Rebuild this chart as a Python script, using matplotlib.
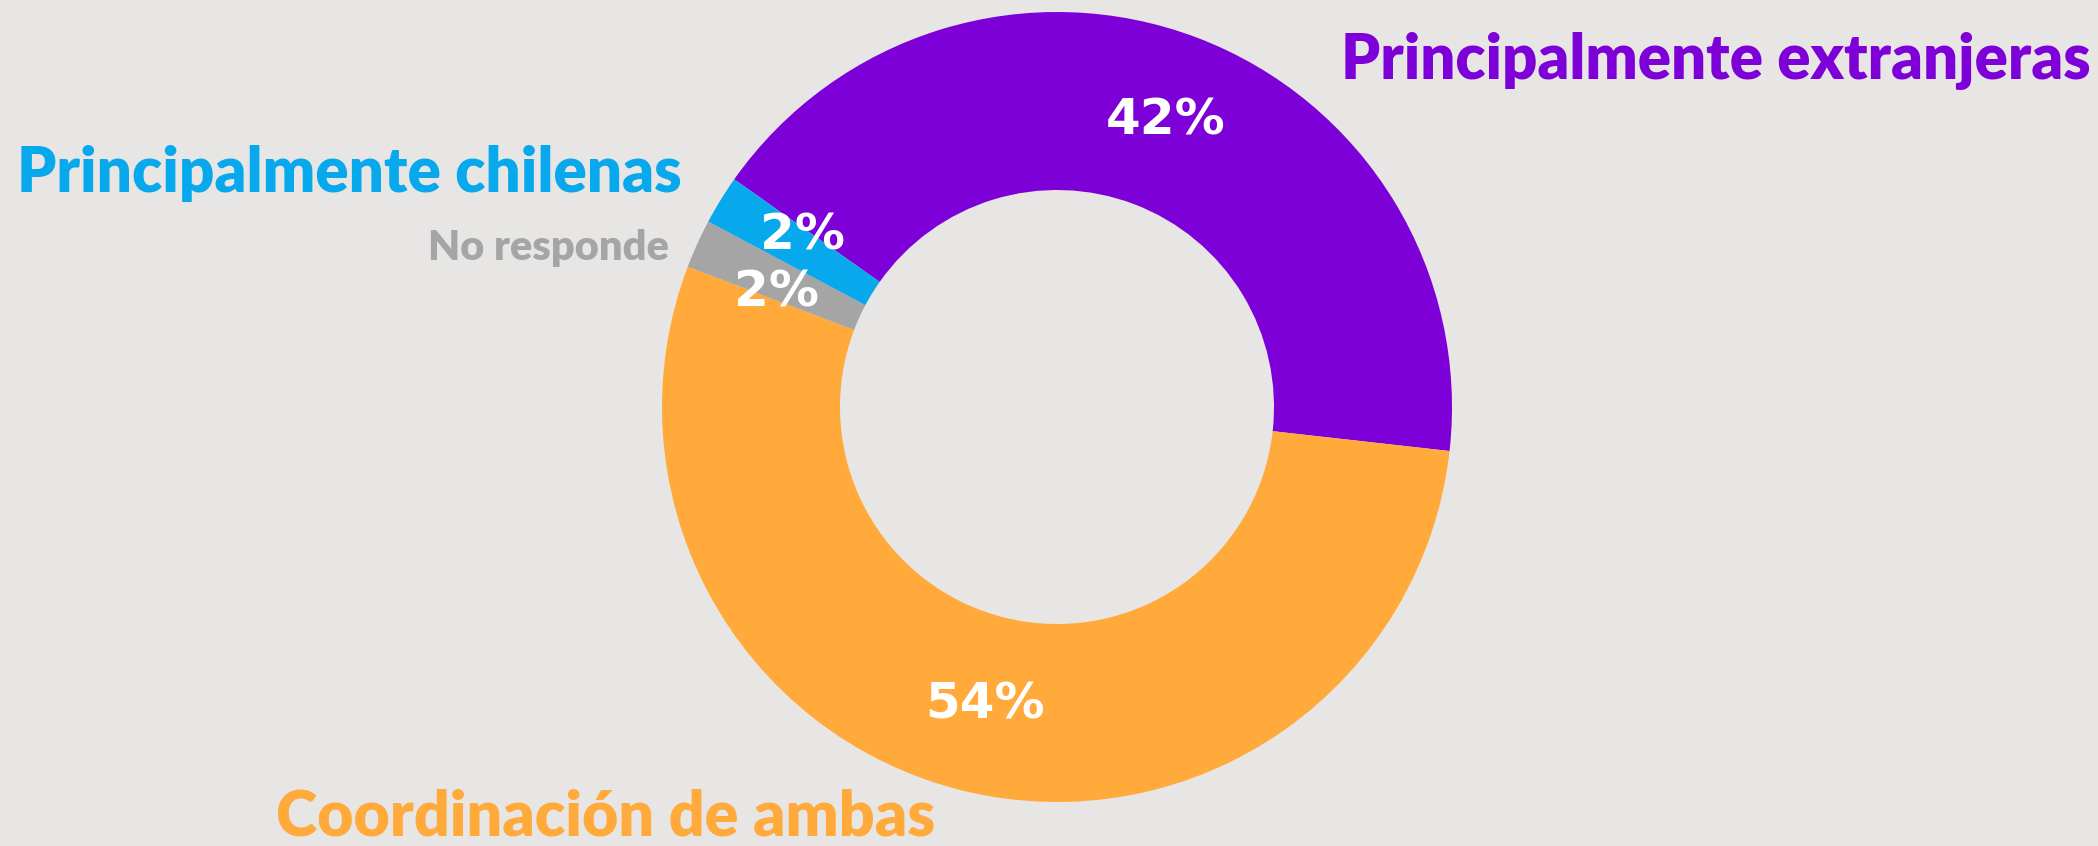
import matplotlib
matplotlib.use("Agg")
import matplotlib.pyplot as plt

# data
categorias = ["Principalmente extranjeras", "Coordinación de ambas", "No responde", "Principalmente chilenas"]
valores = [42, 54, 2, 2]
colores = ["#7E00D8", "#FFAA3A", "#A5A5A5", "#08A8EC"]

W, H = 2098, 846
fondo = "#E8E6E4"

plt.rcParams["font.family"] = ["Lato", "DejaVu Sans"]

fig = plt.figure(figsize=(W / 100, H / 100), dpi=100, facecolor=fondo)
ax = fig.add_axes([0, 0, 1, 1])
ax.set_facecolor(fondo)

wedges, textos, pcts = ax.pie(
    valores, colors=colores, startangle=144.8, counterclock=False,
    center=(1057, H - 407), radius=395,
    wedgeprops=dict(width=395 - 217, edgecolor="none"),
    autopct=lambda p: f"{round(p):d}%", pctdistance=0.775,
    textprops=dict(color="white", fontsize=36, fontweight="bold",
                   family="DejaVu Sans"),
)
for t in pcts:
    t.set_va("center")
    t.set_ha("center")
# los dos 2% van un poco separados entre si
pcts[3].set_position((802, H - 235))
pcts[2].set_position((777, H - 292))

ax.set_xlim(0, W)
ax.set_ylim(0, H)
ax.set_aspect("equal")
ax.axis("off")

# etiquetas de categoria: x izquierda, linea base (desde arriba), ancho objetivo
pos = {
    "Principalmente extranjeras": (1341, 79, 748),
    "Principalmente chilenas": (17, 192, 663),
    "No responde": (428, 260, 241),
    "Coordinación de ambas": (276, 835, 657),
}
fig.canvas.draw()
r = fig.canvas.get_renderer()
for cat, col in zip(categorias, colores):
    x, yb, ancho = pos[cat]
    t = ax.text(x, H - yb, cat, color=col, fontsize=30, fontweight="heavy",
                ha="left", va="baseline")
    w = t.get_window_extent(renderer=r).width
    t.set_fontsize(30 * ancho / w)

fig.savefig("out.png", dpi=100, facecolor=fondo)
